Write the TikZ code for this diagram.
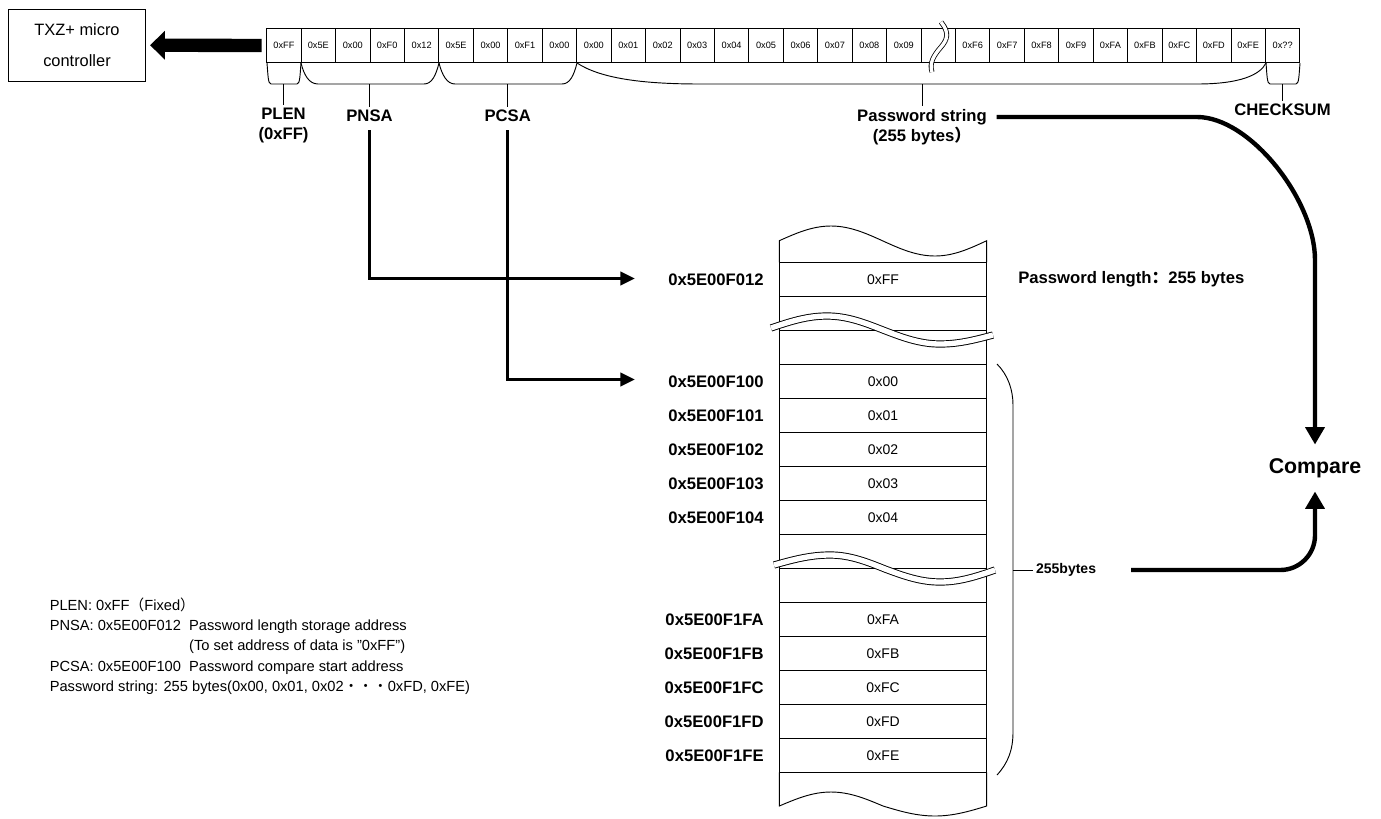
\documentclass[tikz,border=0pt]{standalone}
\usepackage{fontspec}
\setmainfont{Liberation Sans}
\newfontfamily\cjkfont{Noto Sans CJK SC}
\usetikzlibrary{positioning,arrows.meta}

\begin{document}
\begin{tikzpicture}[
  x=0.75pt,
  y=-0.75pt,
  line width=0.7pt,
  bytecell/.style={
    draw,
    minimum width=25.83pt,
    minimum height=25.8pt,
    inner sep=0pt,
    font=\fontsize{6.9}{8}\selectfont
  },
  memcell/.style={
    draw,
    minimum width=155.55pt,
    minimum height=25.5pt,
    inner sep=0pt,
    font=\fontsize{10.5}{12}\selectfont
  },
  addr/.style={font=\fontsize{12.5}{15}\selectfont\bfseries, inner sep=2pt},
  fieldlbl/.style={font=\fontsize{12.5}{15}\selectfont\bfseries, align=center, inner sep=2pt},
  tomcu/.style={line width=10pt, -{Triangle[length=11pt,width=21pt]}},
  toaddr/.style={line width=2.5pt, -{Triangle[length=11pt,width=10pt]}},
  tocmp/.style={line width=3.3pt, -{Triangle[length=13pt,width=14pt]}},
  cut/.style={double distance=4pt, line width=0.7pt}
]
\useasboundingbox (0,0) rectangle (1381,818);

\node[draw, minimum width=103pt, minimum height=53.8pt, align=center,
  font=\fontsize{12.3}{23}\selectfont] (mcu) at (77,45.2) {TXZ+ micro\\controller};

\begin{scope}[on grid, node distance=25.83pt]
\node[bytecell] (plen) at (283.9,45.5) {0xFF};
\node[bytecell, right=of plen] (na1) {0x5E};
\node[bytecell, right=of na1] (na2) {0x00};
\node[bytecell, right=of na2] (na3) {0xF0};
\node[bytecell, right=of na3] (na4) {0x12};
\node[bytecell, right=of na4] (ca1) {0x5E};
\node[bytecell, right=of ca1] (ca2) {0x00};
\node[bytecell, right=of ca2] (ca3) {0xF1};
\node[bytecell, right=of ca3] (ca4) {0x00};
\node[bytecell, right=of ca4] (pw00) {0x00};
\node[bytecell, right=of pw00] (pw01) {0x01};
\node[bytecell, right=of pw01] (pw02) {0x02};
\node[bytecell, right=of pw02] (pw03) {0x03};
\node[bytecell, right=of pw03] (pw04) {0x04};
\node[bytecell, right=of pw04] (pw05) {0x05};
\node[bytecell, right=of pw05] (pw06) {0x06};
\node[bytecell, right=of pw06] (pw07) {0x07};
\node[bytecell, right=of pw07] (pw08) {0x08};
\node[bytecell, right=of pw08] (pw09) {0x09};
\node[bytecell, right=of pw09] (pwgap) {};
\node[bytecell, right=of pwgap] (pwF6) {0xF6};
\node[bytecell, right=of pwF6] (pwF7) {0xF7};
\node[bytecell, right=of pwF7] (pwF8) {0xF8};
\node[bytecell, right=of pwF8] (pwF9) {0xF9};
\node[bytecell, right=of pwF9] (pwFA) {0xFA};
\node[bytecell, right=of pwFA] (pwFB) {0xFB};
\node[bytecell, right=of pwFB] (pwFC) {0xFC};
\node[bytecell, right=of pwFC] (pwFD) {0xFD};
\node[bytecell, right=of pwFD] (pwFE) {0xFE};
\node[bytecell, right=of pwFE] (csum) {0x??};
\end{scope}

\draw[double distance=2.5pt, line width=0.6pt] (941,22) .. controls (950,33) and (947,40) .. (941,47)
  .. controls (934,55) and (929,63) .. (932,72);

\draw[tomcu, shorten <=3.5pt, shorten >=3pt] (plen.west) -- (mcu.east);

% braces under the frame
\draw (267,63) .. controls (268,75) and (268,84) .. (271,84) -- (297,84)
  .. controls (300,84) and (300,75) .. (301,63);
\draw (301,63) .. controls (304,75) and (309,84) .. (318,84) -- (424,84)
  .. controls (432,84) and (436,75) .. (439,63);
\draw (439,63) .. controls (442,75) and (447,84) .. (455,84) -- (562,84)
  .. controls (570,84) and (574,75) .. (577,63);
\draw (577,63) .. controls (600,78) and (640,84) .. (700,84) -- (1197,84)
  .. controls (1240,84) and (1260,75) .. (1266,63);
\draw (1266,63) .. controls (1267,75) and (1267,84) .. (1270,84) -- (1296,84)
  .. controls (1299,84) and (1299,75) .. (1300,63);

\node[fieldlbl] (plenlbl) at (283.5,125.5) {PLEN\\(0xFF)};
\node[fieldlbl] (pnsalbl) at (369.5,116) {PNSA};
\node[fieldlbl] (pcsalbl) at (507.7,116) {PCSA};
\node[fieldlbl] (pwlbl) at (922,117) {Password string};
\node[fieldlbl] (pwsub) at (922,136) {(255 bytes{\cjkfont ）}};
\node[fieldlbl] (csumlbl) at (1282.5,110) {CHECKSUM};

\draw (283.5,84) -- (plenlbl.north);
\draw (369.5,84) -- (pnsalbl.north);
\draw (507.7,84) -- (pcsalbl.north);
\draw (922,84) -- (pwlbl.north);
\draw (1282.5,84) -- (csumlbl.north);

% memory map
\begin{scope}[on grid, node distance=25.5pt]
\node[memcell] (mFF) at (883,279.3) {0xFF};
\node[memcell, below=of mFF] (gap1) {};
\node[memcell, below=of gap1] (gap2) {};
\node[memcell, below=of gap2] (m00) {0x00};
\node[memcell, below=of m00] (m01) {0x01};
\node[memcell, below=of m01] (m02) {0x02};
\node[memcell, below=of m02] (m03) {0x03};
\node[memcell, below=of m03] (m04) {0x04};
\node[memcell, below=of m04] (gap3) {};
\node[memcell, below=of gap3] (gap4) {};
\node[memcell, below=of gap4] (mFA) {0xFA};
\node[memcell, below=of mFA] (mFB) {0xFB};
\node[memcell, below=of mFB] (mFC) {0xFC};
\node[memcell, below=of mFC] (mFD) {0xFD};
\node[memcell, below=of mFD] (mFE) {0xFE};
\end{scope}

\draw (779.3,262.3) -- (779.3,240.7) sin (831,226) cos (883,241) sin (935,256) cos (986.7,240.7) -- (986.7,262.3);
\draw (779.3,772.3) -- (779.3,806) sin (831,792) cos (883,806) sin (935,816) cos (986.7,806) -- (986.7,772.3);
\draw[cut] (771,328) sin (827,316) cos (883,330) sin (940,344) cos (993,335);
\draw[cut] (774,565) sin (830,555) cos (885,569) sin (940,582) cos (995,570);

\node[addr, left=9pt of mFF] (aF012) {0x5E00F012};
\node[addr, left=9pt of m00] (aF100) {0x5E00F100};
\node[addr, left=9pt of m01] (aF101) {0x5E00F101};
\node[addr, left=9pt of m02] (aF102) {0x5E00F102};
\node[addr, left=9pt of m03] (aF103) {0x5E00F103};
\node[addr, left=9pt of m04] (aF104) {0x5E00F104};
\node[addr, left=9pt of mFA] (aF1FA) {0x5E00F1FA};
\node[addr, left=9pt of mFB] (aF1FB) {0x5E00F1FB};
\node[addr, left=9pt of mFC] (aF1FC) {0x5E00F1FC};
\node[addr, left=9pt of mFD] (aF1FD) {0x5E00F1FD};
\node[addr, left=9pt of mFE] (aF1FE) {0x5E00F1FE};

\node[addr, right=21pt of mFF] (pwlen) {Password length{\cjkfont ：}255 bytes};

\draw (997,364) .. controls (1008,375) and (1013,390) .. (1013,405) -- (1013,732)
  .. controls (1013,750) and (1008,763) .. (997,775);
\node[font=\fontsize{10.5}{12}\selectfont\bfseries, anchor=west, inner sep=2pt] (bytes) at (1033,570) {255bytes};
\draw (1013,570) -- (bytes.west);

\coordinate (pnsain) at (635,278.5);
\coordinate (pcsain) at (635,379.5);
\draw[toaddr, shorten <=4pt] (pnsalbl.south) |- (pnsain);
\draw[toaddr, shorten <=4pt] (pcsalbl.south) |- (pcsain);

\node[font=\fontsize{16}{19}\selectfont\bfseries, inner sep=10pt] (compare) at (1315,468) {Compare};
\draw[tocmp, shorten <=5pt] (pwlbl.east) -- (1197,117) .. controls (1250,117) and (1315,200) .. (1315,260) -- (compare.north);
\draw[tocmp, rounded corners=26pt, shorten <=24pt] (bytes.east) -| (compare.south);

\node[anchor=north west, align=left, inner sep=0pt, font=\fontsize{11}{15.3}\selectfont] (notes) at (49.3,597) {%
PLEN: 0xFF{\cjkfont （}Fixed{\cjkfont ）}\\
PNSA: 0x5E00F012\ \ Password length storage address\\
\phantom{PNSA: 0x5E00F012\ \ }(To set address of data is \char34 0xFF”)\\
PCSA: 0x5E00F100\ \ Password compare start address\\
Password string: 255 bytes(0x00, 0x01, 0x02{\cjkfont ・・・}0xFD, 0xFE)};
\end{tikzpicture}
\end{document}
